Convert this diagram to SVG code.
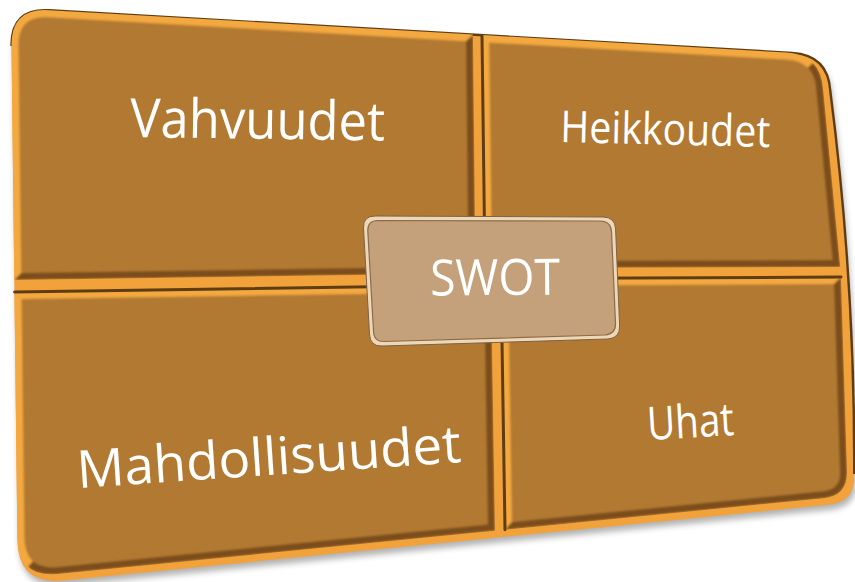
<svg xmlns="http://www.w3.org/2000/svg" width="855" height="582" viewBox="0 0 855 582">
  <defs>
    <style>
      .lbl { font-family: "Open Sans", "Liberation Sans", sans-serif; fill: #ffffff; }
      .bevel-dark { fill: #7B4E1A; }
      .bevel-light { fill: #F4A940; }
      .face { fill: #B27933; }
      .edge { fill: none; stroke: #5E3D14; stroke-width: 3; stroke-linecap: round; }
    </style>
    <filter id="soft" x="-5%" y="-5%" width="110%" height="110%">
      <feGaussianBlur stdDeviation="1.3"/>
    </filter>
    <filter id="shadow" x="-5%" y="-5%" width="110%" height="115%">
      <feGaussianBlur stdDeviation="3"/>
    </filter>

    <!-- base slab outline (tilted, rounded) -->
    <path id="slabShape" d="M 11.5,46 Q 11,8 49,10.2 L 792,52.9 Q 828,55 830.3,91 Q 855,282 854.2,474 Q 856,502 828,504.8 L 63,580.5 Q 18,585 17.4,540 Z"/>

    <!-- panel outer shapes -->
    <path id="tlOut" d="M 11.5,46 Q 11,8 49,10.2 L 473,34.5 L 475.5,273.3 L 14.3,280 Z"/>
    <path id="trOut" d="M 482,35.1 L 786,52.6 Q 821,54.6 823.2,89.6 L 840.3,267 L 485,268 Z"/>
    <path id="blOut" d="M 14.4,292 L 491.1,285.1 L 495,530.8 L 58,574 Q 17.9,578 17.4,538 Z"/>
    <path id="brOut" d="M 501,278.5 L 841,277.1 L 847,470.8 Q 848,495.8 823.7,498.2 L 505,529.8 Z"/>

    <clipPath id="tlClip"><use href="#tlOut"/></clipPath>
    <clipPath id="trClip"><use href="#trOut"/></clipPath>
    <clipPath id="blClip"><use href="#blOut"/></clipPath>
    <clipPath id="brClip"><use href="#brOut"/></clipPath>
  </defs>

  <!-- soft drop shadow under the slab -->
  <use href="#slabShape" transform="translate(2,5)" fill="#000" opacity="0.3" filter="url(#shadow)"/>

  <!-- orange slab visible in the grooves and along the rim -->
  <use href="#slabShape" fill="#F1A23B"/>
  <path d="M 11.5,46 Q 11,8 49,10.2 L 792,52.9 Q 828,55 830.3,91 Q 855,282 854.2,474" fill="none" stroke="#5E3D14" stroke-width="2.4"/>

  <g id="node-vahvuudet">
    <g clip-path="url(#tlClip)">
      <g filter="url(#soft)">
        <use href="#tlOut" class="bevel-dark"/>
        <path class="bevel-light" d="M 0,0 L 480,27.8 L 466,41.2 L 300,150 L 21.2,273 L 7.4,286.9 Z"/>
        <path class="face" d="M 18.4,46 Q 18,15 49,17.2 L 466,41.2 L 468.4,266.4 L 21.2,273 Z"/>
      </g>
    </g>
    <text class="lbl" x="130" y="137" font-size="54" textLength="255" lengthAdjust="spacingAndGlyphs" transform="rotate(0.8 130 137)">Vahvuudet</text>
  </g>

  <g id="node-heikkoudet">
    <g clip-path="url(#trClip)">
      <g filter="url(#soft)">
        <use href="#trOut" class="bevel-dark"/>
        <path class="bevel-light" d="M 470,20 L 820,40 L 820.3,55.4 L 807.85,67.8 L 700,150 L 491.9,261 L 478,275 Z"/>
        <path class="face" d="M 489.1,42.5 L 786.4,59.6 Q 814.4,61.2 816.2,89.2 L 832.6,260 L 491.9,261 Z"/>
      </g>
    </g>
    <path class="edge" d="M 482,36 L 485,268"/>
    <text class="lbl" x="560" y="142" font-size="44" textLength="210" lengthAdjust="spacingAndGlyphs" transform="rotate(1.36 560 142)">Heikkoudet</text>
  </g>

  <g id="node-mahdollisuudet">
    <g clip-path="url(#blClip)">
      <g filter="url(#soft)">
        <use href="#blOut" class="bevel-dark"/>
        <path class="bevel-light" d="M 0,270 L 498,278 L 484.2,292.2 L 300,420 L 32.95,561.25 L 17,579 L 0,579 Z"/>
        <path class="face" d="M 21.5,298.9 L 484.2,292.2 L 487.9,524.5 L 57.8,567.1 Q 24.8,570.3 24.4,537.3 Z"/>
      </g>
    </g>
    <path class="edge" d="M 14.6,292 L 491.1,285.1"/>
    <text class="lbl" x="78" y="488" font-size="52" textLength="385" lengthAdjust="spacingAndGlyphs" transform="rotate(-3.87 78 488)">Mahdollisuudet</text>
  </g>

  <g id="node-uhat">
    <g clip-path="url(#brClip)">
      <g filter="url(#soft)">
        <use href="#brOut" class="bevel-dark"/>
        <path class="bevel-light" d="M 495,270 L 848,270.1 L 834,284.1 L 700,400 L 511.9,522.1 L 498,537.5 Z"/>
        <path class="face" d="M 508.1,285.5 L 834,284.1 L 840,471.5 Q 841,489.5 823.2,491.3 L 511.9,522.1 Z"/>
      </g>
    </g>
    <path class="edge" d="M 505,529.8 L 501,278.5 L 841,277.1"/>
    <text class="lbl" x="648" y="440" font-size="46" textLength="87" lengthAdjust="spacingAndGlyphs" transform="rotate(-3.3 648 440)">Uhat</text>
  </g>

  <g id="connectors"></g>

  <g id="node-swot">
    <path d="M 375,216 L 603,217 Q 615,217 615.6,229 L 619.6,326 Q 620,338 608,339 L 382,346 Q 370,346.5 369.5,334 L 363.5,228 Q 363,216 375,216 Z" fill="#EDD7B5" stroke="#7C6249" stroke-width="1"/>
    <path d="M 378,220.5 L 600,221 Q 611,221 611.5,232 L 615.5,323 Q 616,334 605,335 L 384,341.5 Q 374,342 373.5,331 L 367.8,231 Q 367.5,220.5 378,220.5 Z" fill="#C4A07B" stroke="#8C6C4B" stroke-width="1.2"/>
    <text class="lbl" x="430" y="295" font-size="50" textLength="130" lengthAdjust="spacingAndGlyphs" transform="rotate(-0.5 495 278)">SWOT</text>
  </g>
</svg>
